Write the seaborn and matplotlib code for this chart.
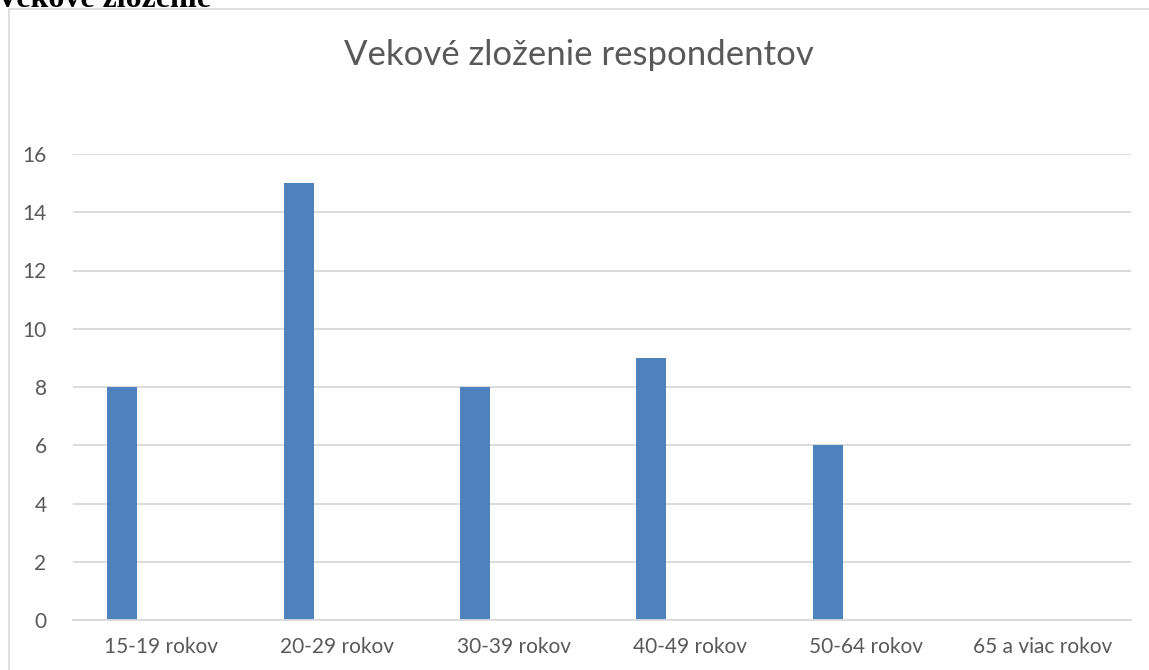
"""Vekove zlozenie respondentov - bar chart recreated with seaborn."""

import numpy as np
import pandas as pd
import matplotlib
matplotlib.use("Agg")
import matplotlib.pyplot as plt
from matplotlib.patches import Rectangle
import seaborn as sns

# data
categories = ["15-19 rokov", "20-29 rokov", "30-39 rokov",
              "40-49 rokov", "50-64 rokov", "65 a viac rokov"]
counts = [8, 15, 8, 9, 6, 0]
y_ticks = [0, 2, 4, 6, 8, 10, 12, 14, 16]

BAR_COLOR = "#4F81BD"
GRID_COLOR = "#D9D9D9"
TEXT_COLOR = "#595959"

sns.set_theme(style="white")
plt.rcParams["font.family"] = ["Lato", "DejaVu Sans"]

W, H = 1149, 670
fig = plt.figure(figsize=(W / 100, H / 100), dpi=100, facecolor="white")

# outer chart border (cut off on the right and bottom in the original)
fig.patches.append(Rectangle((9 / W, -0.1), 1.2, 1 - 9 / H + 0.1,
                             transform=fig.transFigure, fill=False,
                             edgecolor="#D9D9D9", lw=1.2))

# heading of the document, only the lower part is visible
fig.text(-4 / W, 1 - 7 / H, "Vekové zloženie", family="Liberation Serif",
         weight="bold", fontsize=23, color="black", va="baseline", ha="left")

ax = fig.add_axes([73 / W, 1 - 620 / H, (1131 - 73) / W, (620 - 154) / H])

# bars sit left of the category centre (empty second series in the source)
df = pd.DataFrame({"pos": np.arange(len(categories)) - 0.221,
                   "count": counts})
sns.barplot(data=df, x="pos", y="count", native_scale=True, width=0.17,
            color=BAR_COLOR, saturation=1, ax=ax, edgecolor="none")

ax.set_xlim(-0.5, len(categories) - 0.5)
ax.set_ylim(0, 16)
ax.set_xticks(np.arange(len(categories)))
ax.set_xticklabels(categories)
ax.set_yticks(y_ticks)
ax.yaxis.grid(True, color=GRID_COLOR, lw=1.3)
ax.set_axisbelow(True)
for side in ["top", "right", "left"]:
    ax.spines[side].set_visible(False)
ax.spines["bottom"].set_color(GRID_COLOR)
ax.spines["bottom"].set_linewidth(1.3)
ax.tick_params(axis="both", length=0, labelsize=15, colors=TEXT_COLOR)
ax.tick_params(axis="x", pad=12)
ax.tick_params(axis="y", pad=19)
ax.set_xlabel("")
ax.set_ylabel("")

fig.text(579 / W, 1 - 55 / H, "Vekové zloženie respondentov",
         fontsize=25, color=TEXT_COLOR, ha="center", va="center",
         family=["Lato", "DejaVu Sans"], weight="normal")

fig.savefig("out.png", dpi=100, facecolor="white")
